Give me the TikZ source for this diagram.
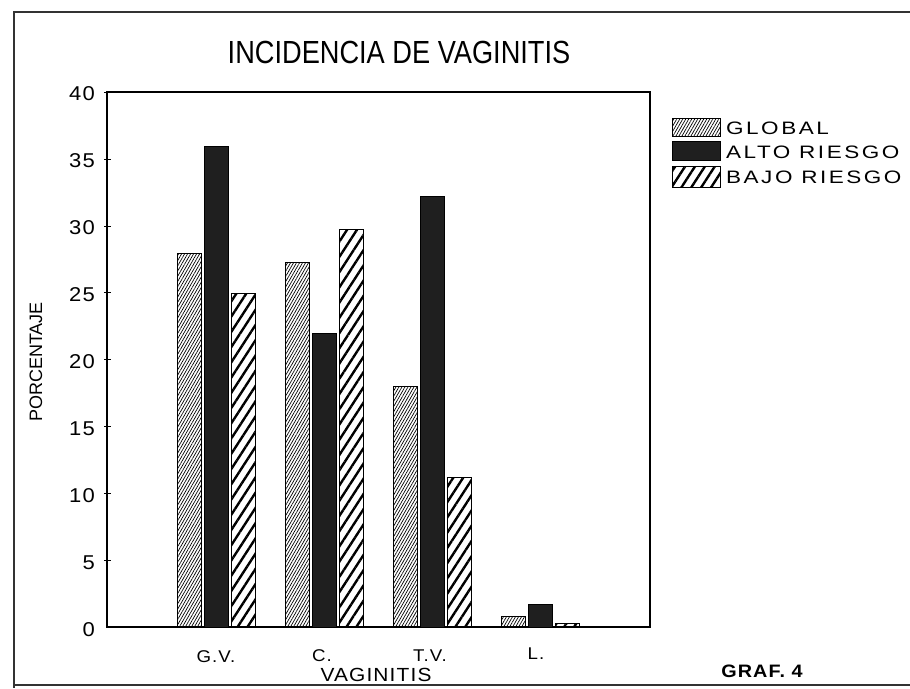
\documentclass[tikz,border=0pt]{standalone}
\usepackage{fontspec}
\setmainfont{Liberation Sans}
\newfontfamily\plotfont[FakeStretch=1.25,LetterSpace=14]{Liberation Sans}
\newfontfamily\tickfont[FakeStretch=1.1,LetterSpace=6]{Liberation Sans}
\newfontfamily\titlefont[FakeStretch=0.85]{Liberation Sans}
\usetikzlibrary{patterns.meta,positioning}
\tikzset{bar/.style={draw, line width=0.9pt}}

\begin{document}
\begin{tikzpicture}[x=1pt, y=-1pt]
\tikzstyle{global} = [bar, pattern={Lines[angle=60, distance=2.6pt, line width=0.7pt]}]
\tikzstyle{alto} = [bar, fill=black!88]
\tikzstyle{bajo} = [bar, pattern={Lines[angle=57, distance=8.3pt, line width=2.4pt]}]
\tikzstyle{ylab} = [anchor=east, inner sep=0pt, font=\tickfont\fontsize{20}{20}\selectfont]
\tikzstyle{xlab} = [inner sep=0pt, font=\tickfont\fontsize{17}{17}\selectfont]
\tikzstyle{leg} = [anchor=west, inner sep=0pt, font=\plotfont\fontsize{18}{18}\selectfont]

\useasboundingbox (0,0) rectangle (910,688);

% frame of the page
\draw [line width=1.2pt, black!80] (910,12) -- (14,12) -- (14,688);
\draw [line width=1.2pt, black!80] (14,685) -- (910,685);

% title
\node [font=\titlefont\fontsize{32}{32}\selectfont] (title) at (399,52) {INCIDENCIA DE VAGINITIS};

% plot box
\node [draw, line width=1.1pt, minimum width=543pt, minimum height=535pt, inner sep=0pt] (plot) at (378.5,359.5) {};

% y axis
\draw (104,92) -- (111,92);
\draw (104,159) -- (111,159);
\draw (104,226) -- (111,226);
\draw (104,292) -- (111,292);
\draw (104,359) -- (111,359);
\draw (104,426) -- (111,426);
\draw (104,493) -- (111,493);
\draw (104,560) -- (111,560);
\node [ylab] (y40) at (95,94) {40};
\node [ylab] (y35) at (95,161) {35};
\node [ylab] (y30) at (95,228) {30};
\node [ylab] (y25) at (95,295) {25};
\node [ylab] (y20) at (95,362) {20};
\node [ylab] (y15) at (95,429) {15};
\node [ylab] (y10) at (95,496) {10};
\node [ylab] (y5) at (95,563) {5};
\node [ylab] (y0) at (95,630) {0};
\node [rotate=90, font=\fontsize{18}{18}\selectfont] (ylabel) at (36,362) {PORCENTAJE};

% bars: G.V.
\draw [global] (177,627) rectangle (201,253);
\draw [alto] (204,627) rectangle (228,146);
\draw [bajo] (231,627) rectangle (255,293);
% bars: C.
\draw [global] (285,627) rectangle (309,262);
\draw [alto] (312,627) rectangle (336,333);
\draw [bajo] (339,627) rectangle (363,229);
% bars: T.V.
\draw [global] (393,627) rectangle (417,386);
\draw [alto] (420,627) rectangle (444,196);
\draw [bajo] (447,627) rectangle (471,477);
% bars: L.
\draw [global] (501,627) rectangle (525,616);
\draw [alto] (528,627) rectangle (552,604);
\draw [bajo] (555,627) rectangle (579,623);

% x axis
\node [xlab] (gv) at (216,657) {G.V.};
\node [xlab] (c) at (322,656) {C.};
\node [xlab] (tv) at (430,656) {T.V.};
\node [xlab] (l) at (536,654) {L.};
\node [xlab, font=\tickfont\fontsize{19}{19}\selectfont] (xlabel) at (376,675) {VAGINITIS};

% legend
\draw [global] (672,118) rectangle (720,136);
\draw [alto] (672,141) rectangle (720,160);
\draw [bajo] (672,166) rectangle (720,187);
\node [leg] (lglobal) at (726,128) {GLOBAL};
\node [leg] (lalto) at (726,152) {ALTO RIESGO};
\node [leg] (lbajo) at (726,177) {BAJO RIESGO};

\node [font=\tickfont\bfseries\fontsize{18}{18}\selectfont] (graf) at (762,671) {GRAF. 4};

\end{tikzpicture}
\end{document}
